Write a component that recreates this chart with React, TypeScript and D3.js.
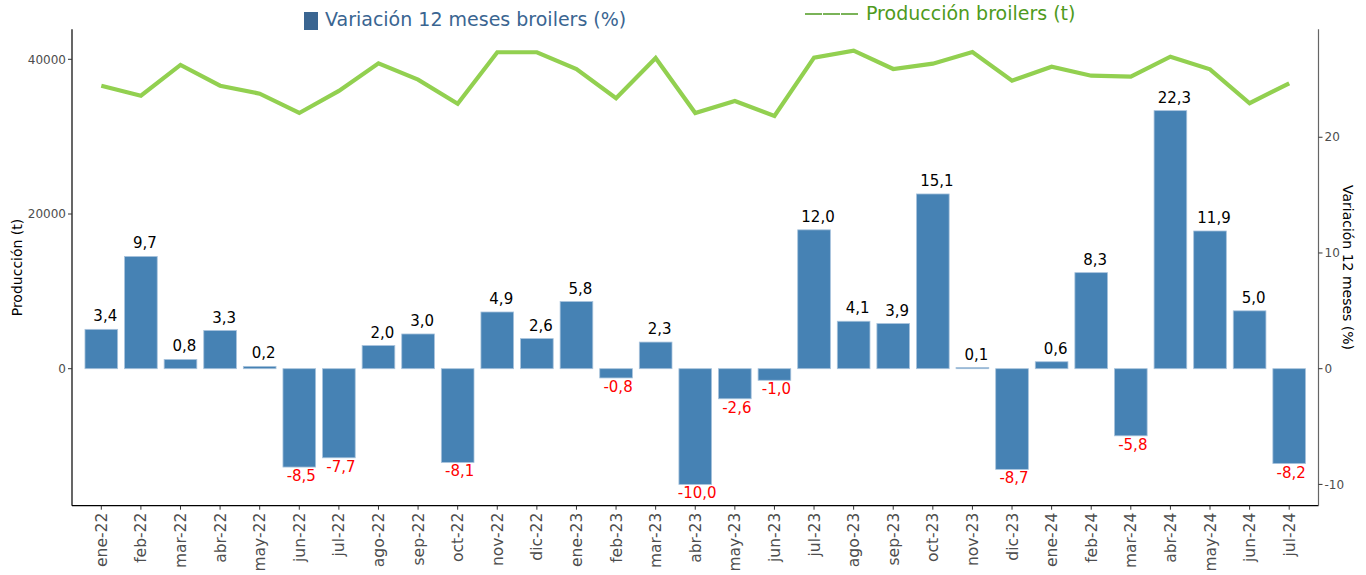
import React from "react";
import * as d3 from "d3";

const categories = ["ene-22","feb-22","mar-22","abr-22","may-22","jun-22","jul-22","ago-22","sep-22","oct-22","nov-22","dic-22","ene-23","feb-23","mar-23","abr-23","may-23","jun-23","jul-23","ago-23","sep-23","oct-23","nov-23","dic-23","ene-24","feb-24","mar-24","abr-24","may-24","jun-24","jul-24"];
const variacion = [3.4,9.7,0.8,3.3,0.2,-8.5,-7.7,2.0,3.0,-8.1,4.9,2.6,5.8,-0.8,2.3,-10.0,-2.6,-1.0,12.0,4.1,3.9,15.1,0.1,-8.7,0.6,8.3,-5.8,22.3,11.9,5.0,-8.2];
const produccion = [36590,35300,39270,36590,35560,33060,35910,39490,37370,34260,40910,40910,38750,34960,40170,33060,34610,32670,40210,41120,38750,39440,40950,37240,39050,37880,37760,40340,38710,34320,36900];
const leftTicks = [0, 20000, 40000];
const rightTicks = [-10, 0, 10, 20];

const W = 1366, H = 575;
const left = 72, right = 1318.5, top = 29.3, bottom = 505.7;
const FONT = "DejaVu Sans, Verdana, sans-serif";

export default function App() {
  const x = d3.scalePoint<string>().domain(categories).range([left, right]).padding(0.74);
  const step = x.step();
  const bw = step * 0.825;
  const yL = d3.scaleLinear().domain([-17710, 43880]).range([bottom, top]);
  const yR = d3.scaleLinear().domain([-11.84, 29.33]).range([bottom, top]);
  const line = d3.line<number>().x((_, i) => x(categories[i])!).y(d => yL(d));
  const fmt = (v: number) => v.toFixed(1).replace(".", ",");

  return (
    <svg width={W} height={H} style={{ position: "absolute", left: 0, top: 0, background: "#fff" }} fontFamily={FONT}>
      {variacion.map((v, i) => {
        const cx = x(categories[i])!;
        const y0 = yR(0), y1 = yR(v);
        return (
          <rect key={"b" + i} x={cx - bw / 2} y={Math.min(y0, y1)} width={bw} height={Math.abs(y1 - y0)}
            fill="#4682B4" stroke="#a8c3dc" strokeWidth={0.8} />
        );
      })}
      {variacion.map((v, i) => {
        const cx = x(categories[i])!;
        const y1 = yR(v);
        return v >= 0 ? (
          <text key={"l" + i} x={cx + 4} y={y1 - 8} textAnchor="middle" fontSize={15} fill="#000">{fmt(v)}</text>
        ) : (
          <text key={"l" + i} x={cx + 2} y={y1 + 14} textAnchor="middle" fontSize={15} fill="#ff0000">{fmt(v)}</text>
        );
      })}
      <path d={line(produccion) || ""} fill="none" stroke="#92d050" strokeWidth={4.2} strokeLinejoin="miter" />
      <line x1={left} x2={left} y1={top} y2={bottom} stroke="#000" strokeWidth={1.2} />
      <line x1={left} x2={right} y1={bottom} y2={bottom} stroke="#000" strokeWidth={1.2} />
      <line x1={right} x2={right} y1={top} y2={bottom} stroke="#666" strokeWidth={1.2} />
      {leftTicks.map(t => (
        <g key={"lt" + t}>
          <line x1={left - 4} x2={left} y1={yL(t)} y2={yL(t)} stroke="#333" />
          <text x={left - 6} y={yL(t)} dy="0.35em" textAnchor="end" fontSize={12} fill="#4d4d4d">{t}</text>
        </g>
      ))}
      {rightTicks.map(t => (
        <g key={"rt" + t}>
          <line x1={right} x2={right + 4} y1={yR(t)} y2={yR(t)} stroke="#333" />
          <text x={right + 6} y={yR(t)} dy="0.35em" textAnchor="start" fontSize={12} fill="#4d4d4d">{t}</text>
        </g>
      ))}
      {categories.map(c => (
        <g key={"xt" + c}>
          <line x1={x(c)!} x2={x(c)!} y1={bottom} y2={bottom + 4} stroke="#333" />
          <text transform={`translate(${x(c)! + 5.5},${bottom + 7}) rotate(-90)`} textAnchor="end" fontSize={15.5} fill="#4d4d4d">{c}</text>
        </g>
      ))}
      <text transform={`translate(22,${(top + bottom) / 2}) rotate(-90)`} textAnchor="middle" fontSize={14} fill="#000">Producción (t)</text>
      <text transform={`translate(1343,${(top + bottom) / 2}) rotate(90)`} textAnchor="middle" fontSize={14} fill="#000">Variación 12 meses (%)</text>
      <rect x={304} y={12} width={14} height={18} fill="#3a6591" />
      <text x={325} y={26} fontSize={19} fill="#3a6591">Variación 12 meses broilers (%)</text>
      {[0, 1, 2].map(k => (
        <line key={"d" + k} x1={805 + k * 18} x2={822 + k * 18} y1={14} y2={14} stroke="#4e9a20" strokeWidth={1.5} />
      ))}
      <text x={866} y={20} fontSize={19} fill="#4e9a20">Producción broilers (t)</text>
    </svg>
  );
}
